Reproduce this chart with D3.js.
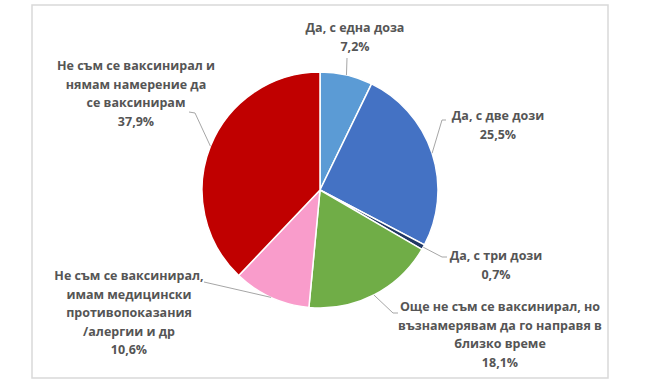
<!DOCTYPE html>
<html>
<head>
<meta charset="utf-8">
<script src="https://cdn.jsdelivr.net/npm/d3@7"></script>
<style>
    html, body { margin: 0; padding: 0; background: #fff; }
    svg { display: block; }
    .lbl { font-family: "Open Sans", sans-serif; font-weight: 700; font-size: 12.5px; fill: #555; }
</style>
</head>
<body>
<div id="chart"></div>
<script>
// slices, clockwise from 12 o'clock
const categories = [
    ['Да, с една доза'],
    ['Да, с две дози'],
    ['Да, с три дози'],
    ['Още не съм се ваксинирал, но', 'възнамерявам да го направя в', 'близко време'],
    ['Не съм се ваксинирал,', 'имам медицински', 'противопоказания', '/алергии и др'],
    ['Не съм се ваксинирал и', 'нямам намерение да', 'се ваксинирам']
];
const values = [7.2, 25.5, 0.7, 18.1, 10.6, 37.9];
const colors = ['#5b9bd5', '#4472c4', '#203864', '#70ad47', '#f99ccb', '#c00000'];

// label placement (centre x, first line y, leader elbow + end)
const labelPos = [
    { x: 355, y: 32, elbow: [347, 58], end: [347, 58] },
    { x: 498, y: 120, elbow: [442, 120], end: [446, 120] },
    { x: 496, y: 260, elbow: [442, 257], end: [447, 257] },
    { x: 500, y: 311, elbow: [393, 313], end: [398, 313] },
    { x: 129, y: 280, elbow: [204, 282], end: [204, 282] },
    { x: 136, y: 70, elbow: [195, 113], end: [189, 112] }
];

const width = 650, height = 389;
const cx = 320, cy = 190, radius = 118;
const lineH = 18.5;

const fmt = d3.formatLocale({ decimal: ',', thousands: ' ', grouping: [3], currency: ['', ''] }).format('.1f');

const svg = d3.select('#chart').append('svg')
    .attr('width', width)
    .attr('height', height);

// chart frame
svg.append('rect')
    .attr('x', 32).attr('y', 5)
    .attr('width', 576).attr('height', 373)
    .attr('fill', '#fff')
    .attr('stroke', '#d9d9d9')
    .attr('stroke-width', 1.5);

const pie = d3.pie().sort(null).value(d => d);
const arcs = pie(values);
const arc = d3.arc().innerRadius(0).outerRadius(radius);

const g = svg.append('g').attr('transform', `translate(${cx},${cy})`);

g.selectAll('path.slice')
    .data(arcs)
    .join('path')
    .attr('class', 'slice')
    .attr('d', arc)
    .attr('fill', (d, i) => colors[i])
    .attr('stroke', '#fff')
    .attr('stroke-width', 1.5);

// leader lines from slice edge midpoint
const edge = d => {
    const a = (d.startAngle + d.endAngle) / 2;
    return [cx + radius * Math.sin(a), cy - radius * Math.cos(a)];
};

svg.selectAll('path.leader')
    .data(arcs)
    .join('path')
    .attr('class', 'leader')
    .attr('d', (d, i) => d3.line()([edge(d), labelPos[i].elbow, labelPos[i].end]))
    .attr('fill', 'none')
    .attr('stroke', '#a6a6a6')
    .attr('stroke-width', 1);

// labels
const labels = svg.selectAll('text.lbl')
    .data(arcs)
    .join('text')
    .attr('class', 'lbl')
    .attr('text-anchor', 'middle')
    .attr('x', (d, i) => labelPos[i].x)
    .attr('y', (d, i) => labelPos[i].y);

labels.each(function(d, i) {
    const t = d3.select(this);
    const lines = categories[i].concat([fmt(values[i]) + '%']);
    lines.forEach((ln, j) => {
        t.append('tspan')
            .attr('x', labelPos[i].x)
            .attr('dy', j === 0 ? 0 : lineH)
            .text(ln);
    });
});
</script>
</body>
</html>
